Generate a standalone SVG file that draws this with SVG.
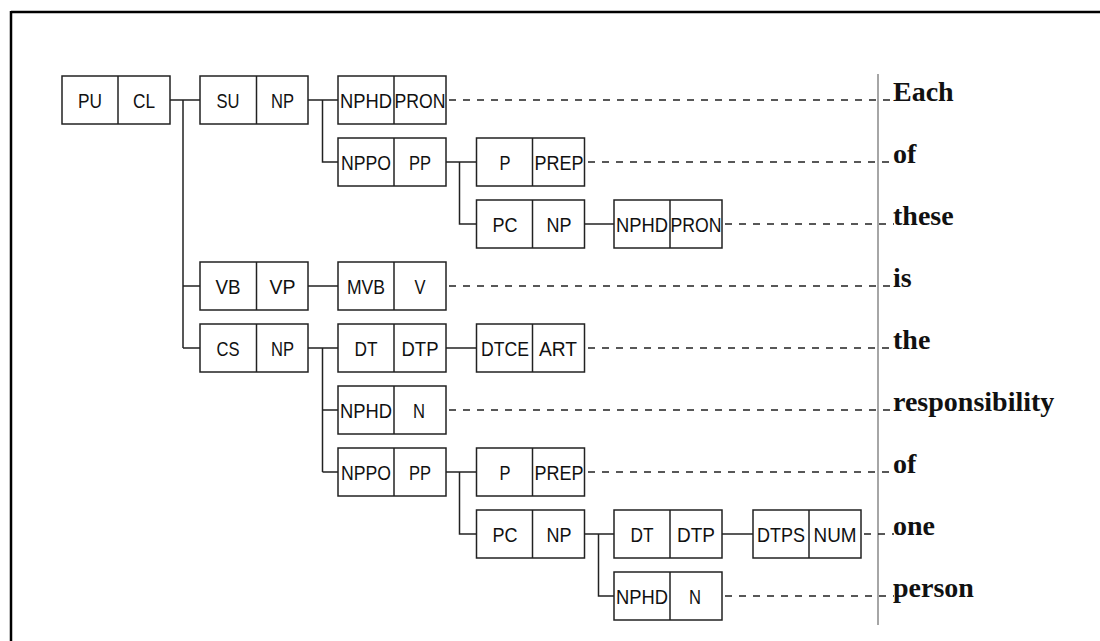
<svg xmlns="http://www.w3.org/2000/svg" width="1100" height="641" viewBox="0 0 1100 641">
<style>
.box{fill:#fff;stroke:#222;stroke-width:1.5}
.div{stroke:#222;stroke-width:1.5}
.lbl{font-family:"Liberation Sans",Arial,sans-serif;font-size:21px;fill:#111;text-anchor:middle}
.con{stroke:#222;stroke-width:1.5;fill:none}
.dash{stroke:#222;stroke-width:1.5;stroke-dasharray:7 7;fill:none}
.word{font-family:"Liberation Serif","Times New Roman",serif;font-size:28px;font-weight:bold;fill:#111}
</style>
<rect width="1100" height="641" fill="#fff"/>
<g id="frame">
<line x1="11" y1="12" x2="1100" y2="12" stroke="#000" stroke-width="2.5"/>
<line x1="11" y1="11" x2="11" y2="641" stroke="#000" stroke-width="2.5"/>
<line x1="878" y1="74" x2="878" y2="625" stroke="#888" stroke-width="1.5"/>
</g>
<g id="connectors">
<path class="con" d="M170 100H200M183 100V348M183 286H200M183 348H200"/>
<path class="con" d="M308 100H338M322.5 100V162H338"/>
<path class="con" d="M446 162H476.5M459.5 162V224H476.5"/>
<path class="con" d="M584.5 224H614"/>
<path class="con" d="M308 286H338"/>
<path class="con" d="M308 348H338M322.5 348V472M322.5 410H338M322.5 472H338"/>
<path class="con" d="M446 348H476.5"/>
<path class="con" d="M446 472H476.5M459.5 472V534H476.5"/>
<path class="con" d="M584.5 534H614M598.5 534V596H614"/>
<path class="con" d="M722 534H753"/>
<path class="dash" d="M449 100H894"/>
<path class="dash" d="M588 162H894"/>
<path class="dash" d="M725 224H894"/>
<path class="dash" d="M449 286H894"/>
<path class="dash" d="M588 348H894"/>
<path class="dash" d="M449 410H894"/>
<path class="dash" d="M588 472H894"/>
<path class="dash" d="M864 534H894"/>
<path class="dash" d="M725 596H894"/>
</g>
<g id="n-PU-CL"><rect class="box" x="62" y="76" width="108" height="48"/><line class="div" x1="118" y1="76" x2="118" y2="124"/><text class="lbl" x="90" y="108" textLength="24" lengthAdjust="spacingAndGlyphs">PU</text><text class="lbl" x="144" y="108" textLength="22" lengthAdjust="spacingAndGlyphs">CL</text></g>
<g id="n-SU-NP"><rect class="box" x="200" y="76" width="108" height="48"/><line class="div" x1="256.5" y1="76" x2="256.5" y2="124"/><text class="lbl" x="228" y="108" textLength="23" lengthAdjust="spacingAndGlyphs">SU</text><text class="lbl" x="282.5" y="108" textLength="23" lengthAdjust="spacingAndGlyphs">NP</text></g>
<g id="n-NPHD-PRON-1"><rect class="box" x="338" y="76" width="108" height="48"/><line class="div" x1="394" y1="76" x2="394" y2="124"/><text class="lbl" x="366" y="108" textLength="52" lengthAdjust="spacingAndGlyphs">NPHD</text><text class="lbl" x="420" y="108" textLength="51" lengthAdjust="spacingAndGlyphs">PRON</text></g>
<g id="n-NPPO-PP-1"><rect class="box" x="338" y="138" width="108" height="48"/><line class="div" x1="394" y1="138" x2="394" y2="186"/><text class="lbl" x="366" y="170" textLength="50" lengthAdjust="spacingAndGlyphs">NPPO</text><text class="lbl" x="420" y="170" textLength="22" lengthAdjust="spacingAndGlyphs">PP</text></g>
<g id="n-P-PREP-1"><rect class="box" x="476.5" y="138" width="108" height="48"/><line class="div" x1="532.5" y1="138" x2="532.5" y2="186"/><text class="lbl" x="505" y="170" textLength="11" lengthAdjust="spacingAndGlyphs">P</text><text class="lbl" x="559" y="170" textLength="49" lengthAdjust="spacingAndGlyphs">PREP</text></g>
<g id="n-PC-NP-1"><rect class="box" x="476.5" y="200" width="108" height="48"/><line class="div" x1="532.5" y1="200" x2="532.5" y2="248"/><text class="lbl" x="505" y="232" textLength="25" lengthAdjust="spacingAndGlyphs">PC</text><text class="lbl" x="559" y="232" textLength="25" lengthAdjust="spacingAndGlyphs">NP</text></g>
<g id="n-NPHD-PRON-2"><rect class="box" x="614" y="200" width="108" height="48"/><line class="div" x1="670" y1="200" x2="670" y2="248"/><text class="lbl" x="642" y="232" textLength="52" lengthAdjust="spacingAndGlyphs">NPHD</text><text class="lbl" x="696" y="232" textLength="51" lengthAdjust="spacingAndGlyphs">PRON</text></g>
<g id="n-VB-VP"><rect class="box" x="200" y="262" width="108" height="48"/><line class="div" x1="256.5" y1="262" x2="256.5" y2="310"/><text class="lbl" x="228" y="294" textLength="25" lengthAdjust="spacingAndGlyphs">VB</text><text class="lbl" x="282.5" y="294" textLength="26" lengthAdjust="spacingAndGlyphs">VP</text></g>
<g id="n-MVB-V"><rect class="box" x="338" y="262" width="108" height="48"/><line class="div" x1="394" y1="262" x2="394" y2="310"/><text class="lbl" x="366" y="294" textLength="38" lengthAdjust="spacingAndGlyphs">MVB</text><text class="lbl" x="420" y="294" textLength="11" lengthAdjust="spacingAndGlyphs">V</text></g>
<g id="n-CS-NP"><rect class="box" x="200" y="324" width="108" height="48"/><line class="div" x1="256.5" y1="324" x2="256.5" y2="372"/><text class="lbl" x="228" y="356" textLength="23" lengthAdjust="spacingAndGlyphs">CS</text><text class="lbl" x="282.5" y="356" textLength="23" lengthAdjust="spacingAndGlyphs">NP</text></g>
<g id="n-DT-DTP-1"><rect class="box" x="338" y="324" width="108" height="48"/><line class="div" x1="394" y1="324" x2="394" y2="372"/><text class="lbl" x="366" y="356" textLength="23" lengthAdjust="spacingAndGlyphs">DT</text><text class="lbl" x="420" y="356" textLength="37" lengthAdjust="spacingAndGlyphs">DTP</text></g>
<g id="n-DTCE-ART"><rect class="box" x="476.5" y="324" width="108" height="48"/><line class="div" x1="532.5" y1="324" x2="532.5" y2="372"/><text class="lbl" x="505" y="356" textLength="48" lengthAdjust="spacingAndGlyphs">DTCE</text><text class="lbl" x="558" y="356" textLength="38" lengthAdjust="spacingAndGlyphs">ART</text></g>
<g id="n-NPHD-N-1"><rect class="box" x="338" y="386" width="108" height="48"/><line class="div" x1="394" y1="386" x2="394" y2="434"/><text class="lbl" x="366" y="418" textLength="52" lengthAdjust="spacingAndGlyphs">NPHD</text><text class="lbl" x="419" y="418" textLength="12" lengthAdjust="spacingAndGlyphs">N</text></g>
<g id="n-NPPO-PP-2"><rect class="box" x="338" y="448" width="108" height="48"/><line class="div" x1="394" y1="448" x2="394" y2="496"/><text class="lbl" x="366" y="480" textLength="50" lengthAdjust="spacingAndGlyphs">NPPO</text><text class="lbl" x="420" y="480" textLength="22" lengthAdjust="spacingAndGlyphs">PP</text></g>
<g id="n-P-PREP-2"><rect class="box" x="476.5" y="448" width="108" height="48"/><line class="div" x1="532.5" y1="448" x2="532.5" y2="496"/><text class="lbl" x="505" y="480" textLength="11" lengthAdjust="spacingAndGlyphs">P</text><text class="lbl" x="559" y="480" textLength="49" lengthAdjust="spacingAndGlyphs">PREP</text></g>
<g id="n-PC-NP-2"><rect class="box" x="476.5" y="510" width="108" height="48"/><line class="div" x1="532.5" y1="510" x2="532.5" y2="558"/><text class="lbl" x="505" y="542" textLength="25" lengthAdjust="spacingAndGlyphs">PC</text><text class="lbl" x="559" y="542" textLength="25" lengthAdjust="spacingAndGlyphs">NP</text></g>
<g id="n-DT-DTP-2"><rect class="box" x="614" y="510" width="108" height="48"/><line class="div" x1="670" y1="510" x2="670" y2="558"/><text class="lbl" x="642" y="542" textLength="23" lengthAdjust="spacingAndGlyphs">DT</text><text class="lbl" x="696" y="542" textLength="38" lengthAdjust="spacingAndGlyphs">DTP</text></g>
<g id="n-DTPS-NUM"><rect class="box" x="753" y="510" width="108" height="48"/><line class="div" x1="809" y1="510" x2="809" y2="558"/><text class="lbl" x="781" y="542" textLength="48" lengthAdjust="spacingAndGlyphs">DTPS</text><text class="lbl" x="835" y="542" textLength="43" lengthAdjust="spacingAndGlyphs">NUM</text></g>
<g id="n-NPHD-N-2"><rect class="box" x="614" y="572" width="108" height="48"/><line class="div" x1="670" y1="572" x2="670" y2="620"/><text class="lbl" x="642" y="604" textLength="52" lengthAdjust="spacingAndGlyphs">NPHD</text><text class="lbl" x="695" y="604" textLength="12" lengthAdjust="spacingAndGlyphs">N</text></g>
<g id="words">
<text class="word" x="893" y="101">Each</text>
<text class="word" x="893" y="163">of</text>
<text class="word" x="893" y="225">these</text>
<text class="word" x="893" y="287">is</text>
<text class="word" x="893" y="349">the</text>
<text class="word" x="893" y="411">responsibility</text>
<text class="word" x="893" y="473">of</text>
<text class="word" x="893" y="535">one</text>
<text class="word" x="893" y="597">person</text>
</g>
</svg>
